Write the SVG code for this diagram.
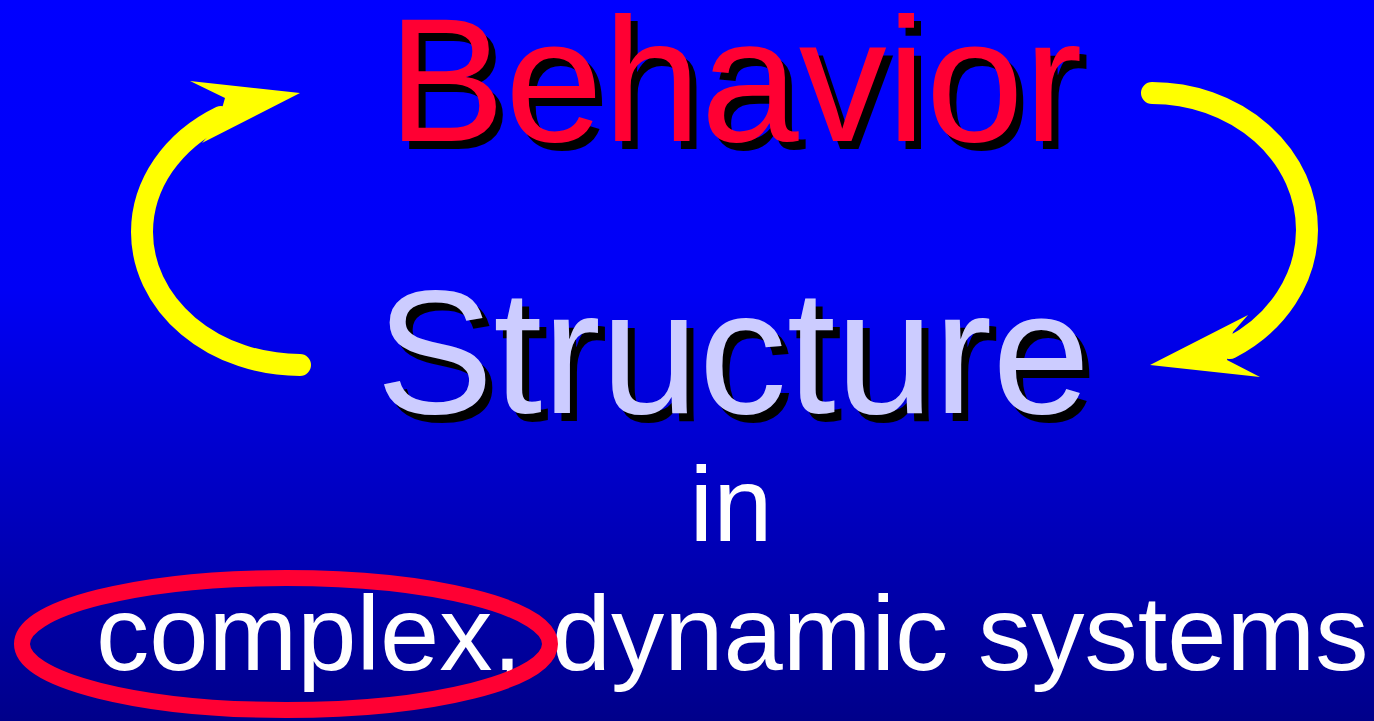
<svg xmlns="http://www.w3.org/2000/svg" width="1374" height="721" viewBox="0 0 1374 721">
<defs>
<linearGradient id="bg" x1="0" y1="0" x2="0" y2="1">
<stop offset="0" stop-color="#0000FF"/>
<stop offset="0.4" stop-color="#0000F6"/>
<stop offset="1" stop-color="#00008A"/>
</linearGradient>
<style>
.big{font-family:"Liberation Sans",Arial,sans-serif;font-size:176px;text-anchor:middle}
.mid{font-family:"Liberation Sans",Arial,sans-serif;font-size:106.5px;fill:#FFFFFF}
.shadow{fill:#000000}
.shaft{fill:none;stroke:#FFFF00;stroke-width:22;stroke-linecap:round}
.head{fill:#FFFF00}
</style>
</defs>
<rect width="1374" height="721" fill="url(#bg)"/>
<g id="behavior">
<text class="big shadow" x="742" y="149">Behavior</text>
<text class="big" x="735" y="141" fill="#FF0033">Behavior</text>
</g>
<g id="structure">
<text class="big shadow" x="740" y="421">Structure</text>
<text class="big" x="733" y="413" fill="#CCCCFF">Structure</text>
</g>
<g id="in">
<text class="mid" x="731" y="541" text-anchor="middle">in</text>
</g>
<g id="systems">
<text class="mid" x="96" y="670">complex, dynamic systems</text>
</g>
<g id="highlight">
<ellipse cx="286" cy="644" rx="264" ry="66" fill="none" stroke="#FF0033" stroke-width="16"/>
</g>
<g id="connectors">
<path class="shaft" d="M300 365 A158 133 0 0 1 142 232 A158 133 0 0 1 221 117"/>
<polygon class="head" points="300,93 190,81 225,98 217,126 202,143"/>
<path class="shaft" d="M1152 93 A155 137 0 0 1 1307 230 A155 137 0 0 1 1230 348"/>
<polygon class="head" points="1150,365 1248,315 1233,332 1227,360 1260,377"/>
</g>
</svg>
